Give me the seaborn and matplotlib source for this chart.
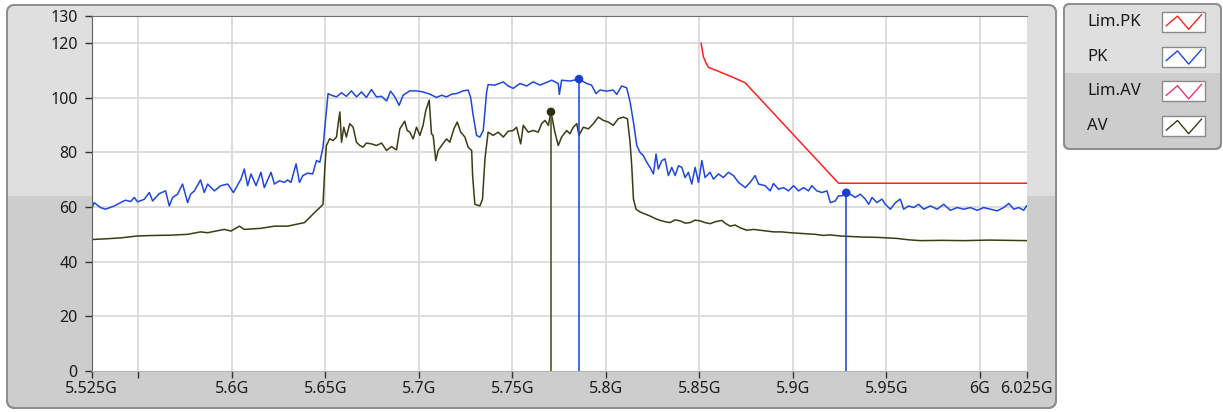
import numpy as np
import pandas as pd
import seaborn as sns
import matplotlib.pyplot as plt
from matplotlib.patches import FancyBboxPatch, Rectangle

# trace data (frequency in GHz, level in dB)
pk_freq = [5.5250, 5.5264, 5.5298, 5.5325, 5.5372, 5.5405, 5.5432, 5.5459, 5.5479, 5.5496,
           5.5532, 5.5559, 5.5577, 5.5612, 5.5646, 5.5666, 5.5684, 5.5710, 5.5737, 5.5764,
           5.5780, 5.5800, 5.5833, 5.5853, 5.5871, 5.5907, 5.5941, 5.5978, 5.6009, 5.6049,
           5.6067, 5.6085, 5.6103, 5.6130, 5.6156, 5.6174, 5.6210, 5.6228, 5.6255, 5.6282,
           5.6299, 5.6317, 5.6344, 5.6362, 5.6380, 5.6406, 5.6433, 5.6453, 5.6471, 5.6488,
           5.6503, 5.6515, 5.6533, 5.6560, 5.6587, 5.6613, 5.6640, 5.6667, 5.6694, 5.6720,
           5.6747, 5.6774, 5.6801, 5.6828, 5.6849, 5.6872, 5.6895, 5.6916, 5.6952, 5.6988,
           5.7023, 5.7059, 5.7095, 5.7122, 5.7149, 5.7176, 5.7202, 5.7238, 5.7264, 5.7277,
           5.7291, 5.7309, 5.7327, 5.7345, 5.7363, 5.7371, 5.7407, 5.7452, 5.7478, 5.7505,
           5.7541, 5.7577, 5.7612, 5.7648, 5.7684, 5.7711, 5.7746, 5.7752, 5.7764, 5.7809,
           5.7857, 5.7898, 5.7924, 5.7948, 5.7969, 5.8005, 5.8040, 5.8059, 5.8085, 5.8112,
           5.8130, 5.8148, 5.8166, 5.8183, 5.8201, 5.8219, 5.8237, 5.8255, 5.8269, 5.8281,
           5.8300, 5.8317, 5.8335, 5.8353, 5.8371, 5.8389, 5.8407, 5.8424, 5.8442, 5.8460,
           5.8478, 5.8496, 5.8514, 5.8531, 5.8558, 5.8576, 5.8603, 5.8629, 5.8656, 5.8683,
           5.8710, 5.8746, 5.8772, 5.8799, 5.8817, 5.8853, 5.8879, 5.8897, 5.8924, 5.8951,
           5.8977, 5.9004, 5.9031, 5.9058, 5.9084, 5.9102, 5.9129, 5.9156, 5.9183, 5.9201,
           5.9227, 5.9245, 5.9263, 5.9286, 5.9308, 5.9334, 5.9361, 5.9388, 5.9406, 5.9424,
           5.9450, 5.9477, 5.9495, 5.9522, 5.9549, 5.9575, 5.9593, 5.9620, 5.9646, 5.9673,
           5.9700, 5.9736, 5.9772, 5.9807, 5.9843, 5.9879, 5.9914, 5.9950, 5.9986, 6.0021,
           6.0057, 6.0093, 6.0128, 6.0155, 6.0182, 6.0208, 6.0235, 6.0250]
pk_level = [59.2, 61.6, 59.8, 59.2, 60.4, 61.6, 62.5, 62.0, 63.5, 61.9,
            62.8, 65.3, 62.2, 64.9, 65.9, 60.4, 63.5, 64.7, 68.4, 61.6,
            64.7, 65.9, 69.9, 65.3, 68.4, 65.9, 67.8, 68.4, 65.3, 70.2,
            73.9, 67.8, 72.1, 67.8, 72.7, 67.1, 72.7, 68.4, 69.6, 69.0,
            69.9, 69.0, 75.8, 69.0, 71.5, 72.4, 72.1, 77.0, 76.4, 81.9,
            92.9, 101.5, 100.9, 100.3, 101.8, 100.5, 102.5, 100.3, 102.1, 100.1,
            103.0, 100.3, 100.5, 98.8, 102.4, 100.3, 97.2, 100.9, 102.5, 102.5,
            102.1, 101.3, 100.1, 100.9, 100.3, 101.3, 101.5, 102.5, 102.8, 100.3,
            93.6, 86.2, 85.6, 88.0, 102.1, 104.8, 104.6, 105.8, 104.3, 103.4,
            105.2, 104.3, 105.8, 104.6, 105.6, 106.4, 105.2, 101.2, 106.4, 106.1,
            106.8, 105.2, 104.6, 101.5, 102.8, 102.4, 102.8, 101.2, 104.3, 103.6,
            98.5, 91.1, 82.5, 80.0, 78.8, 76.4, 74.5, 72.1, 79.4, 73.9,
            77.0, 77.6, 71.5, 74.5, 71.5, 75.1, 74.5, 70.8, 72.7, 68.4,
            74.5, 69.0, 77.0, 70.8, 72.7, 70.2, 72.1, 70.8, 72.7, 71.5,
            69.0, 67.1, 69.0, 71.5, 68.4, 67.8, 65.9, 68.6, 66.5, 67.1,
            65.9, 67.8, 65.9, 67.1, 65.9, 67.8, 65.9, 65.3, 65.9, 61.6,
            62.2, 64.1, 64.1, 65.0, 64.7, 63.5, 64.7, 62.9, 61.0, 63.5,
            61.6, 62.9, 61.0, 59.2, 61.6, 62.9, 59.2, 60.4, 59.8, 61.0,
            59.2, 60.4, 59.2, 61.0, 58.8, 59.8, 59.2, 59.8, 58.8, 59.8,
            59.2, 58.6, 59.8, 61.3, 59.2, 59.8, 58.8, 60.4]

av_freq = [5.5250, 5.5336, 5.5405, 5.5496, 5.5586, 5.5673, 5.5764, 5.5833, 5.5871, 5.5960,
           5.5996, 5.6041, 5.6067, 5.6155, 5.6228, 5.6299, 5.6389, 5.6433, 5.6471, 5.6488,
           5.6497, 5.6506, 5.6524, 5.6542, 5.6560, 5.6568, 5.6578, 5.6587, 5.6599, 5.6613,
           5.6631, 5.6649, 5.6667, 5.6685, 5.6702, 5.6720, 5.6747, 5.6774, 5.6801, 5.6828,
           5.6854, 5.6881, 5.6899, 5.6925, 5.6938, 5.6952, 5.6970, 5.6988, 5.7006, 5.7023,
           5.7038, 5.7056, 5.7068, 5.7077, 5.7091, 5.7104, 5.7122, 5.7149, 5.7166, 5.7188,
           5.7206, 5.7224, 5.7247, 5.7264, 5.7283, 5.7288, 5.7300, 5.7327, 5.7341, 5.7354,
           5.7371, 5.7398, 5.7425, 5.7452, 5.7478, 5.7505, 5.7523, 5.7545, 5.7559, 5.7585,
           5.7612, 5.7639, 5.7657, 5.7675, 5.7693, 5.7707, 5.7728, 5.7746, 5.7764, 5.7791,
           5.7809, 5.7826, 5.7845, 5.7857, 5.7880, 5.7907, 5.7934, 5.7960, 5.7987, 5.8014,
           5.8040, 5.8067, 5.8094, 5.8116, 5.8130, 5.8139, 5.8148, 5.8162, 5.8183, 5.8237,
           5.8264, 5.8291, 5.8318, 5.8344, 5.8371, 5.8398, 5.8425, 5.8451, 5.8478, 5.8505,
           5.8531, 5.8558, 5.8585, 5.8621, 5.8640, 5.8665, 5.8692, 5.8719, 5.8755, 5.8790,
           5.8826, 5.8860, 5.8897, 5.8940, 5.8986, 5.9030, 5.9076, 5.9120, 5.9165, 5.9200,
           5.9254, 5.9320, 5.9377, 5.9450, 5.9558, 5.9620, 5.9682, 5.9800, 5.9914, 6.0050,
           6.0250]
av_level = [48.1, 48.4, 48.7, 49.4, 49.6, 49.7, 50.0, 50.9, 50.6, 51.8,
            51.2, 53.0, 51.8, 52.2, 53.0, 53.0, 54.3, 57.3, 59.8, 61.0,
            73.3, 82.5, 85.0, 84.3, 85.6, 89.9, 94.8, 83.7, 89.2, 85.6,
            90.5, 89.2, 83.7, 82.5, 81.9, 83.4, 83.1, 82.5, 83.4, 80.7,
            82.1, 80.9, 88.6, 91.4, 88.0, 87.4, 84.9, 89.2, 86.2, 89.9,
            95.4, 99.1, 86.8, 86.2, 77.0, 80.7, 82.5, 84.9, 83.7, 88.6,
            91.1, 87.4, 85.6, 81.9, 80.7, 71.5, 61.0, 60.4, 62.9, 77.6,
            87.4, 86.2, 87.4, 85.6, 87.7, 88.0, 89.2, 83.1, 89.9, 87.4,
            88.0, 87.4, 90.5, 91.7, 89.9, 94.8, 87.4, 82.5, 85.6, 88.0,
            86.8, 89.2, 90.5, 86.2, 89.2, 88.6, 90.5, 92.9, 91.7, 91.1,
            89.9, 92.3, 92.9, 92.3, 83.7, 75.1, 62.9, 59.2, 58.2, 56.7,
            55.8, 55.1, 54.6, 54.3, 55.3, 54.9, 54.1, 54.3, 55.2, 54.9,
            54.3, 53.9, 54.6, 55.1, 54.0, 53.0, 53.4, 52.4, 51.5, 51.8,
            51.5, 51.2, 50.9, 50.9, 50.6, 50.4, 50.2, 50.0, 49.6, 49.8,
            49.4, 49.2, 49.0, 48.9, 48.5, 48.0, 47.7, 47.8, 47.7, 47.9,
            47.7]

limpk_freq = [5.8510, 5.8522, 5.8537, 5.8549, 5.8594, 5.8665, 5.8745, 5.9245, 6.0250]
limpk_level = [119.9, 115.0, 112.6, 111.1, 109.9, 107.9, 105.5, 68.7, 68.7]

marker_names = ["AV", "PK", "PK"]
marker_freq = [5.7707, 5.7857, 5.9286]
marker_level = [94.8, 106.8, 65.2]

series_names = ["Lim.PK", "PK", "Lim.AV", "AV"]
series_colors = ["#ff1f1f", "#1f47dc", "#e8347f", "#3c3c14"]
marker_colors = {"AV": "#2e2e0e", "PK": "#1a3fd0"}
drop_colors = {"AV": "#55552a", "PK": "#2050e0"}

xtick_vals = [5.525, 5.55, 5.6, 5.65, 5.7, 5.75, 5.8, 5.85, 5.9, 5.95, 6.0, 6.025]
xtick_labels = ["5.525G", "", "5.6G", "5.65G", "5.7G", "5.75G", "5.8G",
                "5.85G", "5.9G", "5.95G", "6G", "6.025G"]
ytick_vals = [0, 20, 40, 60, 80, 100, 120, 130]

plt.rcParams["font.family"] = ["Noto Sans", "DejaVu Sans"]

fig = plt.figure(figsize=(12.23, 4.12), dpi=100)
fig.patch.set_facecolor("white")

# panel backgrounds drawn in pixel coordinates
bg = fig.add_axes([0, 0, 1, 1])
bg.set_xlim(0, 1223)
bg.set_ylim(412, 0)
bg.axis("off")
bg.set_zorder(0)

panel = FancyBboxPatch((7, 5), 1049, 403, boxstyle="round,pad=0,rounding_size=8",
                       fc="#cdcdcd", ec="#8e8e8e", lw=1.4)
bg.add_patch(panel)
top = Rectangle((7, 5), 1049, 191, fc="#dfdfdf", ec="none")
bg.add_patch(top)
top.set_clip_path(panel)
panel2 = FancyBboxPatch((7, 5), 1049, 403, boxstyle="round,pad=0,rounding_size=8",
                        fc="none", ec="#8e8e8e", lw=1.4)
bg.add_patch(panel2)

lpanel = FancyBboxPatch((1064, 4), 157, 145, boxstyle="round,pad=0,rounding_size=6",
                        fc="#cdcdcd", ec="#8e8e8e", lw=1.4)
bg.add_patch(lpanel)
ltop = Rectangle((1064, 4), 157, 69, fc="#dfdfdf", ec="none")
bg.add_patch(ltop)
ltop.set_clip_path(lpanel)
bg.add_patch(FancyBboxPatch((1064, 4), 157, 145, boxstyle="round,pad=0,rounding_size=6",
                            fc="none", ec="#8e8e8e", lw=1.4))

# legend rows
zig_x = np.array([0.1, 0.36, 0.62, 0.92])
zig_y = np.array([0.3, 0.78, 0.12, 0.85])
for i, (name, color) in enumerate(zip(series_names, series_colors)):
    yc = 21.7 + 34.8 * i
    bg.text(1087, yc, name, va="center", ha="left", fontsize=12, color="#1c1c1c")
    bg.add_patch(Rectangle((1162, yc - 10), 43, 20, fc="white", ec="#8a8a8a", lw=1))
    bg.plot(1162 + zig_x * 43, yc + 10 - zig_y * 20, color=color, lw=1)

# main plot
ax = fig.add_axes([91.5 / 1223, 41 / 412, 935 / 1223, 355.3 / 412])
ax.set_zorder(1)
ax.set_facecolor("white")

traces = pd.concat([
    pd.DataFrame({"freq": pk_freq, "level": pk_level, "trace": "PK"}),
    pd.DataFrame({"freq": av_freq, "level": av_level, "trace": "AV"}),
    pd.DataFrame({"freq": limpk_freq, "level": limpk_level, "trace": "Lim.PK"}),
])
palette = dict(zip(series_names, series_colors))
sns.lineplot(data=traces, x="freq", y="level", hue="trace", hue_order=["PK", "AV", "Lim.PK"],
             palette=palette, estimator=None, sort=False, lw=1.1, legend=False, ax=ax)

markers = pd.DataFrame({"freq": marker_freq, "level": marker_level, "trace": marker_names})
for _, r in markers.iterrows():
    ax.vlines(r["freq"], 0, r["level"], color=drop_colors[r["trace"]], lw=1.2, zorder=3)
sns.scatterplot(data=markers, x="freq", y="level", hue="trace", palette=marker_colors,
                s=38, linewidth=0, legend=False, ax=ax, zorder=4)

ax.set_xlim(5.525, 6.025)
ax.set_ylim(0, 130)
ax.set_xticks(xtick_vals)
ax.set_xticklabels(xtick_labels)
ax.set_yticks(ytick_vals)
ax.set_xlabel("")
ax.set_ylabel("")

for v in xtick_vals[1:-1]:
    ax.axvline(v, color="#dadada", lw=1.3, zorder=0)
for v in ytick_vals[1:-1]:
    ax.axhline(v, color="#dadada", lw=1.3, zorder=0)

ax.tick_params(axis="both", direction="out", length=5, width=1, color="#333333",
               labelsize=11.5, labelcolor="#1c1c1c")
ax.tick_params(axis="y", pad=5)
ax.tick_params(axis="x", pad=2)
ax.spines["left"].set_color("#606060")
ax.spines["top"].set_color("#707070")
ax.spines["bottom"].set_color("#b5b5b5")
ax.spines["right"].set_visible(False)

fig.savefig("out.png", dpi=100)
